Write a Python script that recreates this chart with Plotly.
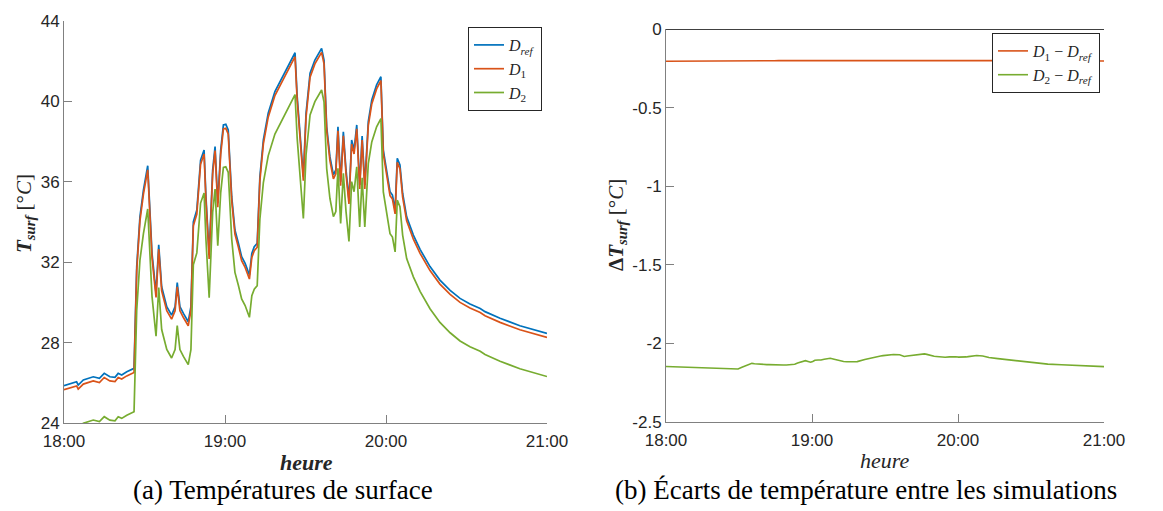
import numpy as np
import pandas as pd
import plotly.graph_objects as go

# ---------------- data ----------------
# time since 18:00, in minutes
t_min = [0, 3.5, 4.7, 5.3, 7.2, 10.9, 13.2, 15.0, 17.1, 19.0,
         20.2, 21.5, 23.4, 26.1, 27.1, 28.3, 29.6, 31.2, 31.8, 32.8,
         34.3, 35.3, 36.4, 38.3, 40.1, 41.4, 42.2, 43.2, 44.5, 46.3,
         47.3, 48.2, 49.5, 50.9, 52.2, 52.9, 54.1, 55.4, 56.3, 57.3,
         58.4, 59.4, 60.3, 61.2, 62.5, 63.7, 65.0, 66.2, 67.5, 69.1,
         70.0, 70.9, 72.0, 73.0, 74.3, 76.1, 78.6, 81.7, 86.1, 86.9,
         88.2, 89.2, 90.2, 91.7, 93.5, 96.0, 96.9, 97.9, 99.1, 100.4,
         101.3, 102.1, 103.1, 104.1, 105.1, 106.2, 107.2, 108.1, 109.1, 110.2,
         111.1, 112.1, 113.4, 114.7, 116.5, 118.1, 119.0, 120.3, 121.5, 122.4,
         123.4, 124.2, 125.2, 126.2, 127.7, 130.2, 132.7, 136.4, 140.1, 143.9,
         147.6, 151.3, 155.1, 156.9, 162.5, 169.9, 180.0]

# surface temperature of the reference simulation [°C]
T_ref = [25.86, 26.00, 26.05, 25.89, 26.14, 26.30, 26.22, 26.47, 26.30, 26.27,
         26.47, 26.39, 26.55, 26.72, 31.78, 34.26, 35.59, 36.80, 35.30, 32.44,
         30.45, 32.86, 30.78, 29.79, 29.37, 29.79, 30.98, 29.79, 29.45, 29.04,
         29.79, 34.01, 34.60, 37.08, 37.58, 35.26, 32.36, 36.59, 37.75, 34.93,
         37.58, 38.83, 38.86, 38.58, 35.26, 33.60, 32.94, 32.27, 31.94, 31.36,
         32.44, 32.77, 32.94, 36.25, 38.08, 39.41, 40.49, 41.31, 42.42, 40.24,
         37.75, 36.25, 39.41, 41.40, 42.06, 42.64, 42.06, 38.74, 37.25, 36.34,
         36.59, 38.74, 36.00, 38.49, 36.59, 35.10, 38.08, 37.58, 38.83, 35.84,
         38.28, 35.84, 38.99, 40.07, 40.82, 41.23, 37.58, 36.59, 35.51, 35.34,
         34.60, 37.17, 36.84, 35.43, 34.26, 33.35, 32.64, 31.78, 31.11, 30.60,
         30.20, 29.92, 29.70, 29.54, 29.21, 28.84, 28.46]

# D1 - Dref [°C]
dT_1 = [-0.205, -0.205, -0.205, -0.205, -0.205, -0.205, -0.205, -0.205, -0.205, -0.205,
        -0.205, -0.205, -0.206, -0.206, -0.205, -0.205, -0.205, -0.204, -0.204, -0.204,
        -0.204, -0.203, -0.203, -0.203, -0.202, -0.202, -0.202, -0.202, -0.202, -0.201,
        -0.201, -0.201, -0.201, -0.201, -0.200, -0.200, -0.200, -0.200, -0.200, -0.199,
        -0.199, -0.199, -0.199, -0.199, -0.199, -0.198, -0.198, -0.198, -0.198, -0.198,
        -0.198, -0.198, -0.197, -0.197, -0.197, -0.197, -0.197, -0.197, -0.197, -0.197,
        -0.197, -0.197, -0.197, -0.197, -0.197, -0.197, -0.197, -0.197, -0.197, -0.197,
        -0.197, -0.197, -0.197, -0.197, -0.197, -0.197, -0.197, -0.197, -0.197, -0.197,
        -0.197, -0.197, -0.197, -0.197, -0.197, -0.197, -0.197, -0.198, -0.198, -0.198,
        -0.198, -0.198, -0.198, -0.198, -0.198, -0.199, -0.199, -0.199, -0.200, -0.200,
        -0.200, -0.201, -0.201, -0.201, -0.202, -0.203, -0.204]

# D2 - Dref [°C]
dT_2 = [-2.147, -2.149, -2.150, -2.150, -2.151, -2.153, -2.154, -2.155, -2.156, -2.157,
        -2.158, -2.159, -2.160, -2.161, -2.162, -2.162, -2.163, -2.152, -2.148, -2.140,
        -2.131, -2.127, -2.129, -2.133, -2.134, -2.135, -2.135, -2.136, -2.137, -2.137,
        -2.137, -2.137, -2.137, -2.137, -2.137, -2.133, -2.125, -2.118, -2.113, -2.110,
        -2.115, -2.120, -2.115, -2.107, -2.106, -2.106, -2.101, -2.097, -2.095, -2.101,
        -2.105, -2.109, -2.112, -2.115, -2.117, -2.118, -2.116, -2.102, -2.084, -2.082,
        -2.080, -2.078, -2.076, -2.073, -2.071, -2.072, -2.078, -2.083, -2.080, -2.077,
        -2.074, -2.073, -2.071, -2.069, -2.068, -2.067, -2.070, -2.075, -2.080, -2.082,
        -2.083, -2.085, -2.087, -2.088, -2.086, -2.084, -2.085, -2.087, -2.088, -2.088,
        -2.086, -2.084, -2.082, -2.080, -2.077, -2.080, -2.090, -2.097, -2.104, -2.111,
        -2.119, -2.125, -2.130, -2.132, -2.136, -2.141, -2.148]

x_tick_labels = ["18:00", "19:00", "20:00", "21:00"]
y1_ticks = [24, 28, 32, 36, 40, 44]
y2_ticks = [0, -0.5, -1, -1.5, -2, -2.5]
y2_tick_labels = ["0", "-0.5", "-1", "-1.5", "-2", "-2.5"]

# ---------------- derived ----------------
T_1 = np.array(T_ref) + np.array(dT_1)
T_2 = np.array(T_ref) + np.array(dT_2)
base = pd.Timestamp("2000-01-01 18:00:00")
times = base + pd.to_timedelta(np.array(t_min), unit="m")
tick_times = [base + pd.Timedelta(hours=h) for h in range(4)]

W, H = 1163, 511
BLUE, ORANGE, GREEN = "#0072BD", "#D95319", "#77AC30"
AX = "#808080"
TXT = "#262626"
SANS = "Liberation Sans"
SERIF = "Liberation Serif"

fig = go.Figure()
fig.add_trace(go.Scatter(x=times, y=T_ref, mode="lines", line=dict(color=BLUE, width=1.7),
                         name="<i>D</i><sub><i>ref</i></sub>", xaxis="x", yaxis="y", legend="legend"))
fig.add_trace(go.Scatter(x=times, y=T_1, mode="lines", line=dict(color=ORANGE, width=1.7),
                         name="<i>D</i><sub>1</sub>", xaxis="x", yaxis="y", legend="legend"))
fig.add_trace(go.Scatter(x=times, y=T_2, mode="lines", line=dict(color=GREEN, width=1.7),
                         name="<i>D</i><sub>2</sub>", xaxis="x", yaxis="y", legend="legend"))
fig.add_trace(go.Scatter(x=times, y=dT_1, mode="lines", line=dict(color=ORANGE, width=1.6),
                         name="<i>D</i><sub>1</sub> − <i>D</i><sub><i>ref</i></sub>",
                         xaxis="x2", yaxis="y2", legend="legend2"))
fig.add_trace(go.Scatter(x=times, y=dT_2, mode="lines", line=dict(color=GREEN, width=1.6),
                         name="<i>D</i><sub>2</sub> − <i>D</i><sub><i>ref</i></sub>",
                         xaxis="x2", yaxis="y2", legend="legend2"))

common_axis = dict(showgrid=False, zeroline=False, showline=True, linecolor=AX, linewidth=1,
                   ticks="inside", ticklen=8, tickcolor=AX, tickwidth=1,
                   tickfont=dict(family=SANS, size=17, color=TXT), automargin=False)

fig.update_layout(
    width=W, height=H, margin=dict(l=0, r=0, t=0, b=0),
    paper_bgcolor="white", plot_bgcolor="white",
    xaxis=dict(domain=[64 / W, 547 / W], anchor="y", type="date",
               range=[tick_times[0], tick_times[-1]], ticklabelstandoff=3,
               tickvals=tick_times, ticktext=x_tick_labels, **common_axis),
    yaxis=dict(domain=[1 - 423 / H, 1 - 21 / H], anchor="x", range=[24, 44],
               tickvals=y1_ticks, ticktext=[str(v) for v in y1_ticks], **common_axis),
    xaxis2=dict(domain=[666 / W, 1104 / W], anchor="y2", type="date",
                range=[tick_times[0], tick_times[-1]], ticklabelstandoff=3,
                tickvals=tick_times, ticktext=x_tick_labels, **common_axis),
    yaxis2=dict(domain=[1 - 422 / H, 1 - 29 / H], anchor="x2", range=[-2.5, 0],
                tickvals=y2_ticks, ticktext=y2_tick_labels, **common_axis),
    legend=dict(x=542 / W, y=1 - 27 / H, xanchor="right", yanchor="top",
                bordercolor=TXT, borderwidth=1, bgcolor="white", itemwidth=30,
                tracegroupgap=0, font=dict(family=SERIF, size=16, color=TXT)),
    legend2=dict(x=1100 / W, y=1 - 33 / H, xanchor="right", yanchor="top",
                 bordercolor=TXT, borderwidth=1, bgcolor="white", itemwidth=30,
                 tracegroupgap=0, font=dict(family=SERIF, size=16, color=TXT)),
    showlegend=True,
)

# black line on top of the right panel (y = 0)
fig.add_shape(type="line", xref="x2 domain", yref="y2", x0=0, x1=1, y0=0, y1=0,
              line=dict(color="black", width=1.3))


def note(text, px, py, size, angle=0, color=TXT):
    return dict(text=text, x=px / W, y=1 - py / H, xref="paper", yref="paper",
                xanchor="center", yanchor="middle", textangle=angle, showarrow=False,
                font=dict(family=SERIF, size=size, color=color))


ann = [
    note("<b><i>T</i></b><sub><b><i>surf</i></b></sub> [°<i>C</i>]", 25, 214, 21, -90),
    note("<b>Δ<i>T</i></b><sub><b><i>surf</i></b></sub> [°<i>C</i>]", 617, 225, 21, -90),
    note("<b><i>heure</i></b>", 306, 462, 22),
    note("<i>heure</i>", 885, 460, 22),
    note("(a) Températures de surface", 283, 490, 27, color="black"),
    note("(b) Écarts de température entre les simulations", 866, 490, 27, color="black"),
]
fig.update_layout(annotations=ann)

fig.write_html("out.html", config={"displayModeBar": False},
               post_script="document.body.style.margin='0';document.body.style.overflow='hidden';")
